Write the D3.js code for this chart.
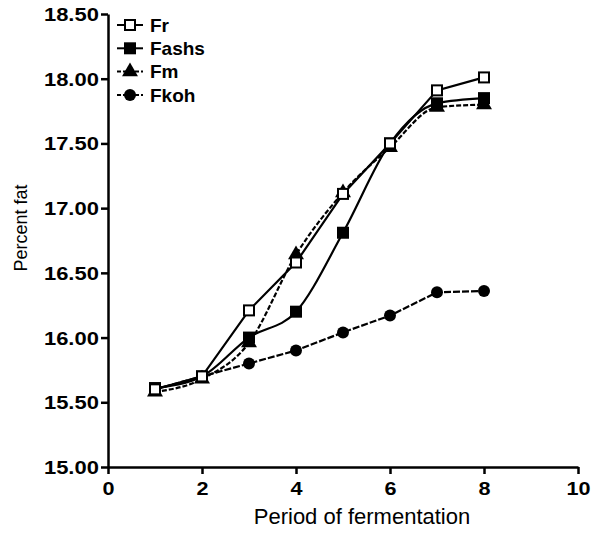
<!DOCTYPE html>
<html>
<head>
<meta charset="utf-8">
<script src="https://cdn.jsdelivr.net/npm/d3@7"></script>
<style>
  body { margin: 0; background: #fff; }
  svg { display: block; }
  text { font-family: "Liberation Sans", Arial, sans-serif; fill: #000; }
</style>
</head>
<body>
<div id="chart"></div>
<script>
// --- Data ---
var periods = [1, 2, 3, 4, 5, 6, 7, 8];
var fr    = [15.60, 15.70, 16.21, 16.58, 17.11, 17.50, 17.91, 18.01];
var fashs = [15.61, 15.70, 16.00, 16.20, 16.81, 17.50, 17.81, 17.85];
var fm    = [15.58, 15.68, 15.96, 16.64, 17.12, 17.47, 17.78, 17.80];
var fkoh  = [15.60, 15.70, 15.80, 15.90, 16.04, 16.17, 16.35, 16.36];
var seriesNames = ["Fr", "Fashs", "Fm", "Fkoh"];
var xTicks = [0, 2, 4, 6, 8, 10];
var yTicks = [15.00, 15.50, 16.00, 16.50, 17.00, 17.50, 18.00, 18.50];

var width = 593;
var height = 533;
var margin = ({top: 14, right: 15, bottom: 66, left: 108});

var x = d3.scaleLinear().domain([0, 10]).range([margin.left, width - margin.right]);
var y = d3.scaleLinear().domain([15, 18.5]).range([height - margin.bottom, margin.top]);

var svg = d3.select("#chart").append("svg")
  .attr("width", width).attr("height", height);

// series styles
var series = [
  {name: seriesNames[0], values: fr,    marker: "square-open", dash: null,  curve: d3.curveLinear},
  {name: seriesNames[1], values: fashs, marker: "square",      dash: null,  curve: d3.curveMonotoneX},
  {name: seriesNames[2], values: fm,    marker: "triangle",    dash: "5,2", curve: d3.curveMonotoneX},
  {name: seriesNames[3], values: fkoh,  marker: "circle",      dash: "7,2", curve: d3.curveLinear}
];

function drawMarker(g, type, cx, cy){
  if (type == "square-open"){
    g.append("rect").attr("x", cx - 5).attr("y", cy - 5).attr("width", 10).attr("height", 10)
      .attr("fill", "#fff").attr("stroke", "#000").attr("stroke-width", 2);
  } else if (type == "square"){
    g.append("rect").attr("x", cx - 6).attr("y", cy - 6).attr("width", 12).attr("height", 12)
      .attr("fill", "#000");
  } else if (type == "triangle"){
    g.append("path").attr("d", d3.symbol(d3.symbolTriangle, 110)())
      .attr("transform", "translate(" + cx + "," + cy + ")").attr("fill", "#000");
  } else {
    g.append("circle").attr("cx", cx).attr("cy", cy).attr("r", 6).attr("fill", "#000");
  }
}

// --- Lines and points (drawn back to front) ---
series.slice().reverse().forEach(function(s){
  var line = d3.line()
    .x(function(d, i){ return x(periods[i]); })
    .y(function(d){ return y(d); })
    .curve(s.curve);
  svg.append("path").datum(s.values)
    .attr("d", line)
    .attr("fill", "none")
    .attr("stroke", "#000")
    .attr("stroke-width", 2.2)
    .attr("stroke-dasharray", s.dash);
  var g = svg.append("g");
  s.values.forEach(function(v, i){
    drawMarker(g, s.marker, x(periods[i]), y(v));
  });
});

// --- Axes ---
var xAxis = g => g
  .attr("transform", "translate(0," + (height - margin.bottom) + ")")
  .call(d3.axisBottom(x).tickValues(xTicks).tickFormat(d3.format("d")).tickSize(7).tickSizeOuter(0));
var yAxis = g => g
  .attr("transform", "translate(" + margin.left + ",0)")
  .call(d3.axisLeft(y).tickValues(yTicks).tickFormat(d3.format(".2f")).tickSize(7).tickSizeOuter(0));

var gx = svg.append("g").call(xAxis);
var gy = svg.append("g").call(yAxis);
[gx, gy].forEach(function(g){
  g.select(".domain").attr("stroke", "#000").attr("stroke-width", 2.5);
  g.selectAll(".tick line").attr("stroke", "#000").attr("stroke-width", 2.5);
  g.selectAll(".tick text").attr("font-size", 18).attr("font-weight", "bold")
    .attr("font-family", "Liberation Sans, Arial, sans-serif").attr("fill", "#000");
});
// labels in the reference are a bit wider than Arial
gx.selectAll(".tick text").attr("dy", "1.0em").attr("transform", "scale(1.2,1)");
gy.selectAll(".tick text").attr("x", -7.5).attr("dy", "0.36em").attr("transform", "scale(1.22,1)");

// axis titles
svg.append("text")
  .attr("x", 362).attr("y", 524)
  .attr("text-anchor", "middle").attr("font-size", 22)
  .text("Period of fermentation");
svg.append("text")
  .attr("transform", "translate(27,228) rotate(-90)")
  .attr("text-anchor", "middle").attr("font-size", 18)
  .text("Percent fat");

// --- Legend ---
var legend = svg.append("g");
series.forEach(function(s, i){
  var ly = 25 + i * 23.3;
  legend.append("line")
    .attr("x1", 117).attr("x2", 143).attr("y1", ly).attr("y2", ly)
    .attr("stroke", "#000").attr("stroke-width", 2)
    .attr("stroke-dasharray", s.dash ? "4,2" : null);
  drawMarker(legend, s.marker, 130, ly);
  legend.append("text")
    .attr("x", 150).attr("y", ly).attr("dy", "0.36em")
    .attr("font-size", 19).attr("font-weight", "bold")
    .text(s.name);
});
</script>
</body>
</html>
